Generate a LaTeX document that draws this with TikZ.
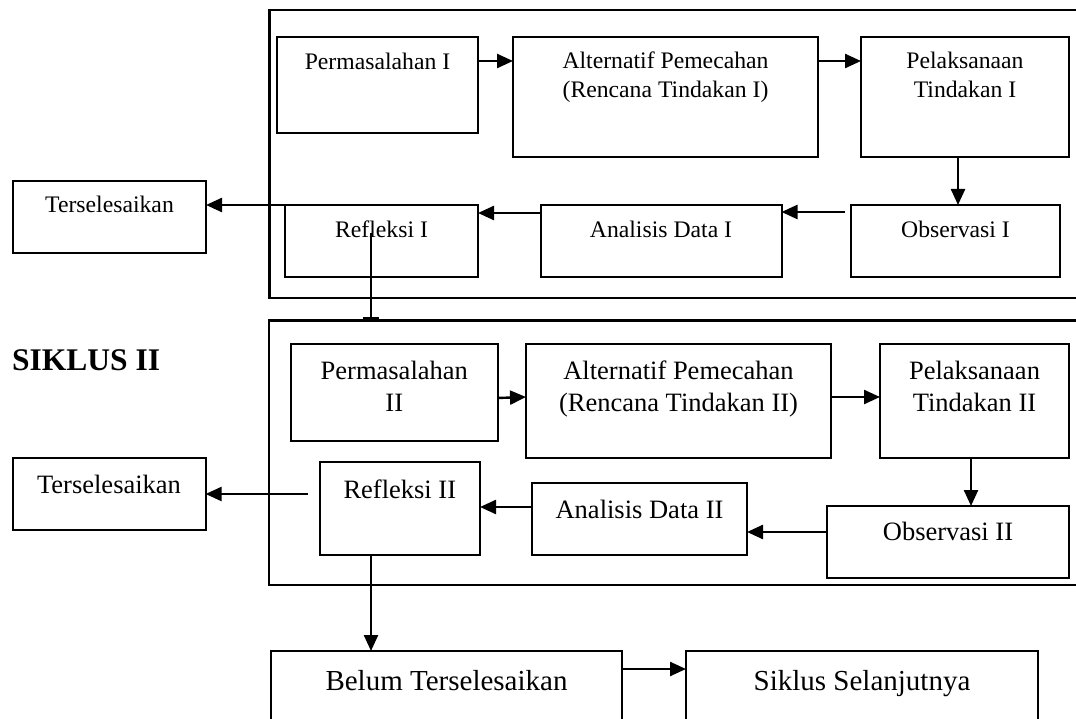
\documentclass[tikz,border=0pt]{standalone}
\usepackage{fontspec}
\setmainfont{Liberation Serif}
\usetikzlibrary{arrows.meta,calc}
\tikzset{
  box/.style={draw, line width=2pt, anchor=north west, inner sep=0pt, outer sep=0pt, rectangle},
  frame/.style={draw, line width=2.6pt, anchor=north west, inner sep=0pt, outer sep=0pt, rectangle},
  arr/.style={line width=2.4pt, -{Triangle[length=16pt,width=14pt]}},
  barline/.style={line width=2.4pt, -{Bar[width=16pt]}},
  ta/.style={anchor=base, inner sep=0pt, font=\fontsize{23.7}{28}\selectfont},
  tb/.style={anchor=base, inner sep=0pt, font=\fontsize{26.5}{32}\selectfont},
  tc/.style={anchor=base, inner sep=0pt, font=\fontsize{29}{35}\selectfont},
  headline/.style={anchor=base west, inner sep=0pt, font=\fontsize{31.5}{36}\selectfont\bfseries},
}
\begin{document}
\begin{tikzpicture}[x=1pt,y=-1pt]
\useasboundingbox (0,0) rectangle (1076,719);
\fill[white] (0,0) rectangle (1076,719);
\clip (0,0) rectangle (1076,719);

% outer frames
\node[frame, minimum width=830pt, minimum height=288pt] (C1) at (269.6,10) {};
\node[frame, minimum width=831pt, minimum height=264.3pt] (C2) at (269,320.7) {};

% cycle I boxes
\node[box, minimum width=201pt, minimum height=96pt] (P1) at (277,37) {};
\node[box, minimum width=305pt, minimum height=120pt] (A1) at (513,37) {};
\node[box, minimum width=208pt, minimum height=120pt] (L1) at (861,37) {};
\node[box, minimum width=209pt, minimum height=72pt] (O1) at (851,205) {};
\node[box, minimum width=240.5pt, minimum height=72pt] (D1) at (541,205) {};
\node[box, minimum width=193pt, minimum height=72pt] (R1) at (285,205) {};
\node[box, minimum width=193pt, minimum height=72pt] (T1) at (13,181) {};

% cycle II boxes
\node[box, minimum width=206.6pt, minimum height=97pt] (P2) at (291,344) {};
\node[box, minimum width=305pt, minimum height=114pt] (A2) at (526,344) {};
\node[box, minimum width=189pt, minimum height=114pt] (L2) at (880,344) {};
\node[box, minimum width=242pt, minimum height=72pt] (O2) at (827,506) {};
\node[box, minimum width=215pt, minimum height=72pt] (D2) at (532,483) {};
\node[box, minimum width=160.4pt, minimum height=93pt] (R2) at (319.6,462) {};
\node[box, minimum width=192.9pt, minimum height=72pt] (T2) at (12.7,458) {};

% bottom boxes
\node[box, minimum width=351pt, minimum height=100pt] (B) at (271,651) {};
\node[box, minimum width=352pt, minimum height=100pt] (S) at (686,651) {};

% texts cycle I
\node[ta] (P1t) at (377.5,70) {Permasalahan I};
\node[ta] (A1t1) at (665.5,69) {Alternatif Pemecahan};
\node[ta] (A1t2) at (665.5,97.5) {(Rencana Tindakan I)};
\node[ta] (L1t1) at (965,69) {Pelaksanaan};
\node[ta] (L1t2) at (965,97.5) {Tindakan I};
\node[ta] (O1t) at (955.5,238) {Observasi I};
\node[ta] (D1t) at (661,238) {Analisis Data I};
\node[ta] (R1t) at (381.5,238) {Refleksi I};
\node[ta] (T1t) at (109.5,213) {Terselesaikan};

% texts cycle II
\node[headline] (H2) at (12,370) {SIKLUS II};
\node[tb] (P2t1) at (394.3,379.3) {Permasalahan};
\node[tb] (P2t2) at (394.3,411.7) {II};
\node[tb] (A2t1) at (678.5,379.3) {Alternatif Pemecahan};
\node[tb] (A2t2) at (678.5,411) {(Rencana Tindakan II)};
\node[tb] (L2t1) at (974.5,379.3) {Pelaksanaan};
\node[tb] (L2t2) at (974.5,411) {Tindakan II};
\node[tb] (O2t) at (948,540.7) {Observasi II};
\node[tb] (D2t) at (639.5,518.3) {Analisis Data II};
\node[tb] (R2t) at (399.8,498) {Refleksi II};
\node[tb] (T2t) at (109,493) {Terselesaikan};

% bottom texts
\node[tc] (Bt) at (446.5,690) {Belum Terselesaikan};
\node[tc] (St) at (862,690) {Siklus Selanjutnya};

% connectors cycle I
\draw[arr] ([yshift=-24pt]P1.north east) -- ([yshift=-24pt]A1.north west);
\draw[arr] ([yshift=-24pt]A1.north east) -- ([yshift=-24pt]L1.north west);
\coordinate (c3) at ([xshift=-7pt]L1.south);
\draw[arr] (c3) -- (c3 |- O1.north);
\coordinate (c4) at ([shift={(-6pt,-7pt)}]O1.north west);
\draw[arr] (c4) -- (c4 -| D1.east);
\coordinate (c5) at ([yshift=-8pt]D1.north west);
\draw[arr] (c5) -- (c5 -| R1.east);
\draw[arr] (R1.north west) -- (R1.north west -| T1.east);
\coordinate (c7) at ([shift={(-10.5pt,-28pt)}]R1.north);
\draw[barline] (c7) -- ([yshift=1.4pt]c7 |- C2.north);

% connectors cycle II
\draw[arr] ([yshift=-54pt]P2.north east) -- ([yshift=-53pt]A2.north west);
\draw[arr] ([yshift=-53pt]A2.north east) -- ([yshift=-53pt]L2.north west);
\coordinate (c10) at ([xshift=-3.5pt]L2.south);
\draw[arr] (c10) -- (c10 |- O2.north);
\coordinate (c11) at ([yshift=-26pt]O2.north west);
\draw[arr] (c11) -- (c11 -| D2.east);
\coordinate (c12) at ([yshift=-24pt]D2.north west);
\draw[arr] (c12) -- (c12 -| R2.east);
\coordinate (c13) at ([shift={(-12pt,-32pt)}]R2.north west);
\draw[arr] (c13) -- (c13 -| T2.east);
\coordinate (c14) at ([xshift=-28.8pt]R2.south);
\draw[arr] (c14) -- (c14 |- B.north);
\coordinate (c15) at ([yshift=-18pt]B.north east);
\draw[arr] (c15) -- (c15 -| S.west);
\end{tikzpicture}
\end{document}
